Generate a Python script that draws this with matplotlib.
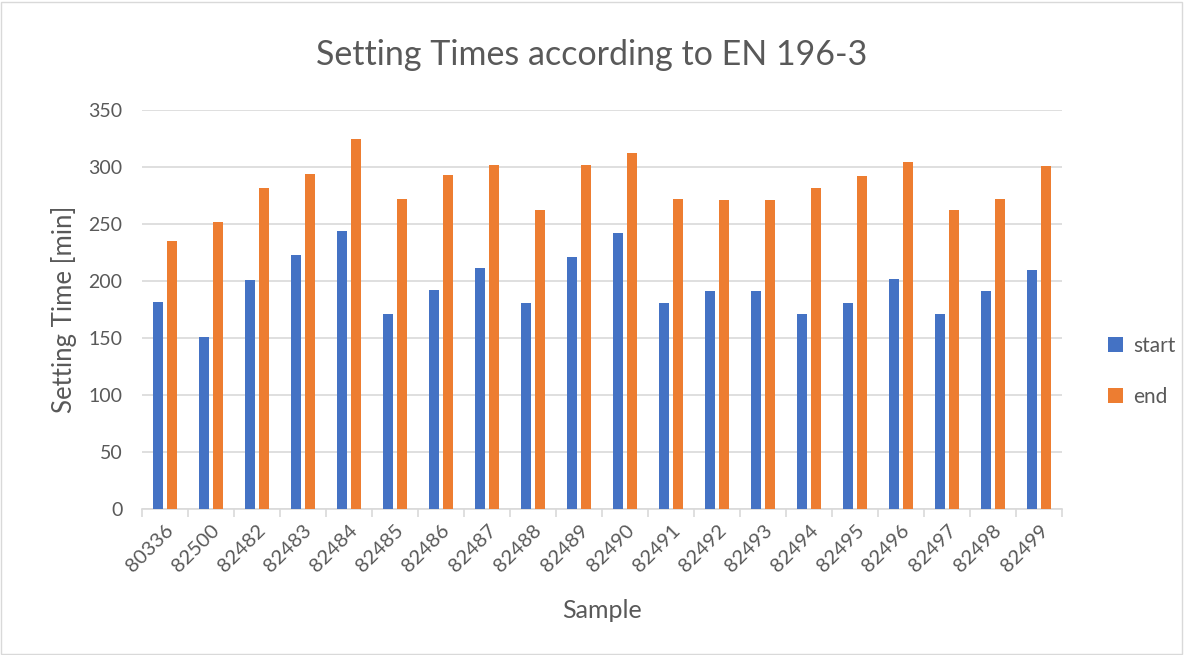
import matplotlib.pyplot as plt
import matplotlib.patches as mpatches
import numpy as np

plt.rcParams["font.family"] = ["Lato", "DejaVu Sans"]

# ── Data ───────────────────────────────────────────────────────
samples = ["80336", "82500", "82482", "82483", "82484", "82485", "82486",
           "82487", "82488", "82489", "82490", "82491", "82492", "82493",
           "82494", "82495", "82496", "82497", "82498", "82499"]
start = [182, 151, 201, 223, 244, 171, 192, 211, 181, 221,
         242, 181, 191, 191, 171, 181, 202, 171, 191, 210]
end = [235, 252, 282, 294, 325, 272, 293, 302, 262, 302,
       312, 272, 271, 271, 282, 292, 304, 262, 272, 301]

text_col = "#595959"
grid_col = "#d9d9d9"

fig = plt.figure(figsize=(11.84, 6.55), dpi=100)
ax = fig.add_axes([0.12, 0.223, 0.777, 0.609])

x = np.arange(len(samples))
w = 0.215
ax.bar(x - 0.145, start, width=w, color="#4472C4", label="start", zorder=3)
ax.bar(x + 0.145, end, width=w, color="#ED7D31", label="end", zorder=3)

ax.set_xlim(-0.5, len(samples) - 0.5)
ax.set_ylim(0, 350)
ax.set_yticks(np.arange(0, 351, 50))
ax.yaxis.grid(True, color=grid_col, linewidth=1.2, zorder=0)
ax.set_axisbelow(True)

ax.set_xticks(x)
ax.set_xticklabels(samples, rotation=45, ha="right", rotation_mode="anchor",
                   fontsize=14.5, color=text_col)
ax.set_xticks(np.arange(-0.5, len(samples), 1), minor=True)
ax.tick_params(axis="x", which="major", length=0, pad=9)
ax.tick_params(axis="x", which="minor", length=6, color=grid_col, width=1.2)
ax.tick_params(axis="y", length=0, labelsize=14, labelcolor=text_col, pad=14)

for s in ["top", "right", "left"]:
    ax.spines[s].set_visible(False)
ax.spines["bottom"].set_color(grid_col)
ax.spines["bottom"].set_linewidth(1.2)

ax.set_ylabel("Setting Time [min]", fontsize=18.5, color=text_col, labelpad=8)
ax.set_xlabel("Sample", fontsize=18, color=text_col, labelpad=17)
fig.suptitle("Setting Times according to EN 196-3", fontsize=24.5,
             color=text_col, y=0.94)

fig.legend(loc="center left", bbox_to_anchor=(0.92, 0.433), frameon=False,
           fontsize=15, labelcolor=text_col, handlelength=0.7,
           handleheight=0.7, handletextpad=0.5, labelspacing=1.5)

fig.patches.append(mpatches.Rectangle((0.001, 0.002), 0.997, 0.995,
                                      transform=fig.transFigure, fill=False,
                                      edgecolor=grid_col, linewidth=1))

plt.savefig("out.png", dpi=100)
